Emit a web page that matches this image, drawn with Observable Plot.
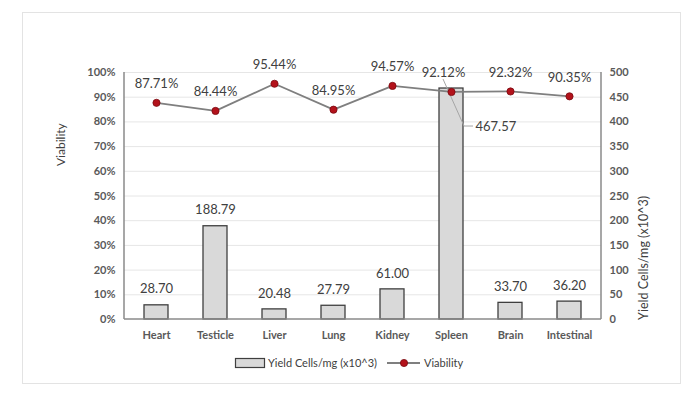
<!DOCTYPE html>
<html>
<head>
<meta charset="utf-8">
<script src="https://cdn.jsdelivr.net/npm/d3@7"></script>
<script src="https://cdn.jsdelivr.net/npm/@observablehq/plot@0.6"></script>
<style>
  html, body { margin: 0; padding: 0; background: #fff; }
  #wrap { position: relative; width: 700px; height: 396px; overflow: hidden; font-family: Lato, "Open Sans", sans-serif; }
  #frame { position: absolute; left: 22px; top: 12px; width: 657px; height: 370px; border: 1px solid #e3e3e3; pointer-events: none; }
  #chart { position: absolute; left: 0; top: 0; }
  #legend { position: absolute; left: 0; top: 352px; }
</style>
</head>
<body>
<div id="wrap">
  <div id="chart"></div>
  <div id="frame"></div>
  <div id="legend"></div>
</div>
<script>
// ---- data ----
const organs = ["Heart", "Testicle", "Liver", "Lung", "Kidney", "Spleen", "Brain", "Intestinal"];
const yieldCells = [28.70, 188.79, 20.48, 27.79, 61.00, 467.57, 33.70, 36.20]; // x10^3 cells/mg
const viability = [87.71, 84.44, 95.44, 84.95, 94.57, 92.12, 92.32, 90.35];    // %
const leftTicks = [0, 0.1, 0.2, 0.3, 0.4, 0.5, 0.6, 0.7, 0.8, 0.9, 1.0];
const rightMax = 500;
const yTitleLeft = "Viability";
const yTitleRight = "Yield Cells/mg (x10^3)";
const legendBar = "Yield Cells/mg (x10^3)";
const legendLine = "Viability";

const data = organs.map((o, i) => ({organ: o, yld: yieldCells[i], via: viability[i]}));
const callout = "Spleen";

const textColor = "#404040";
const tickColor = "#595959";
const font = "Lato, 'Open Sans', sans-serif";

// axis lines drawn from scales/dimensions
function axisLines(index, scales, values, dim) {
  const g = d3.create("svg:g");
  const x0 = dim.marginLeft, x1 = dim.width - dim.marginRight;
  const y0 = dim.marginTop, y1 = dim.height - dim.marginBottom;
  g.append("line").attr("x1", x0).attr("x2", x0).attr("y1", y0).attr("y2", y1)
    .attr("stroke", "#8a8a8a").attr("stroke-width", 1.5);
  g.append("line").attr("x1", x1).attr("x2", x1).attr("y1", y0).attr("y2", y1)
    .attr("stroke", "#8a8a8a").attr("stroke-width", 1.5);
  g.append("line").attr("x1", x0).attr("x2", x1).attr("y1", y1).attr("y2", y1)
    .attr("stroke", "#8a8a8a").attr("stroke-width", 1.5);
  return g.node();
}

// leader line for the Spleen yield label
function leader(index, scales, values, dim) {
  const d = data.find(e => e.organ === callout);
  const cx = scales.x(d.organ) + scales.x.bandwidth() / 2;
  const top = scales.y(d.yld / rightMax);
  const g = d3.create("svg:g");
  g.append("path")
    .attr("d", `M${cx - 8},${top - 9} L${cx + 13},${top + 38} L${cx + 22},${top + 38}`)
    .attr("fill", "none").attr("stroke", "#a6a6a6").attr("stroke-width", 1);
  return g.node();
}

const chart = Plot.plot({
  width: 700,
  height: 396,
  marginLeft: 124,
  marginRight: 99,
  marginTop: 72,
  marginBottom: 77,
  style: {fontFamily: font, background: "transparent", overflow: "visible"},
  x: {domain: organs, paddingInner: 0.6, paddingOuter: 0.3, label: null},
  y: {domain: [0, 1], label: null},
  marks: [
    Plot.gridY(leftTicks.slice(1), {stroke: "#e6e6e6", strokeOpacity: 1, strokeWidth: 1}),
    Plot.barY(data, {x: "organ", y: d => d.yld / rightMax, fill: "#d9d9d9", stroke: "#3f3f3f", strokeWidth: 1.3}),
    axisLines,
    Plot.axisY(leftTicks, {anchor: "left", tickSize: 0, tickPadding: 9, tickFormat: d3.format(".0%"),
      fontSize: 11, fontWeight: "bold", fill: tickColor, label: null}),
    Plot.axisY(leftTicks, {anchor: "right", tickSize: 0, tickPadding: 8, tickFormat: d => Math.round(d * rightMax),
      fontSize: 11, fontWeight: "bold", fill: tickColor, label: null}),
    Plot.axisX({tickSize: 0, tickPadding: 12, fontSize: 11, fontWeight: "bold", fill: tickColor, label: null}),
    // bar value labels
    Plot.text(data.filter(d => d.organ !== callout), {x: "organ", y: d => d.yld / rightMax, text: d => d.yld.toFixed(2),
      dy: -16, fontSize: 13, fill: textColor}),
    Plot.text(data.filter(d => d.organ === callout), {x: "organ", y: d => d.yld / rightMax, text: d => d.yld.toFixed(2),
      dy: 38, dx: 24, textAnchor: "start", fontSize: 13, fill: textColor}),
    leader,
    // viability line
    Plot.line(data, {x: "organ", y: d => d.via / 100, stroke: "#7f7f7f", strokeWidth: 1.8}),
    Plot.dot(data, {x: "organ", y: d => d.via / 100, r: 3.6, fill: "#b3121b", stroke: "#7a0a10", strokeWidth: 0.8}),
    Plot.text(data.filter(d => d.organ !== callout), {x: "organ", y: d => d.via / 100, text: d => d.via.toFixed(2) + "%",
      dy: -19, fontSize: 13, fill: textColor}),
    Plot.text(data.filter(d => d.organ === callout), {x: "organ", y: d => d.via / 100, text: d => d.via.toFixed(2) + "%",
      dy: -19, dx: -8, fontSize: 13, fill: textColor}),
    // axis titles
    Plot.text([yTitleLeft], {frameAnchor: "left", dx: -63, dy: -30, rotate: -90, fontSize: 12, fill: textColor}),
    Plot.text([yTitleRight], {frameAnchor: "right", dx: 42, dy: 0, rotate: -90, fontSize: 12.5, fill: textColor})
  ]
});
document.getElementById("chart").appendChild(chart);

// legend
const lg = d3.select("#legend").append("svg").attr("width", 700).attr("height", 24)
  .style("font-family", font);
lg.append("rect").attr("x", 235.5).attr("y", 6.5).attr("width", 29).attr("height", 9)
  .attr("fill", "#d9d9d9").attr("stroke", "#3f3f3f").attr("stroke-width", 1.2);
lg.append("text").attr("x", 268).attr("y", 11).attr("dy", "0.35em").attr("font-size", 11)
  .attr("fill", textColor).text(legendBar);
lg.append("line").attr("x1", 387).attr("x2", 420).attr("y1", 11).attr("y2", 11)
  .attr("stroke", "#7f7f7f").attr("stroke-width", 1.8);
lg.append("circle").attr("cx", 404).attr("cy", 11).attr("r", 3.6)
  .attr("fill", "#b3121b").attr("stroke", "#7a0a10").attr("stroke-width", 0.8);
lg.append("text").attr("x", 424).attr("y", 11).attr("dy", "0.35em").attr("font-size", 11)
  .attr("fill", textColor).text(legendLine);
</script>
</body>
</html>
